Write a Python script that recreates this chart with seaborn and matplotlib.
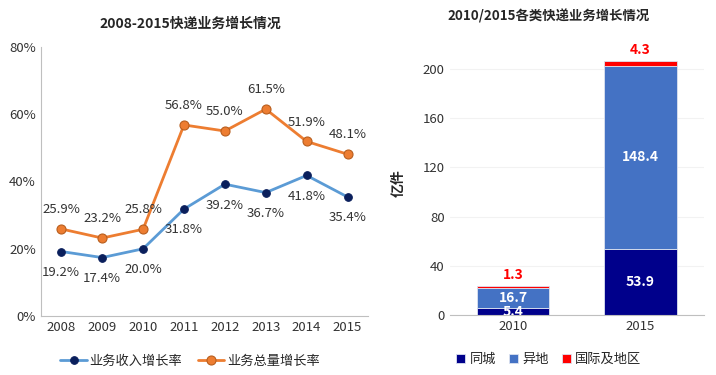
import pandas as pd
import matplotlib
matplotlib.use("Agg")
import matplotlib.pyplot as plt
from matplotlib.ticker import FuncFormatter
import seaborn as sns

sns.set_style("white")
plt.rcParams['font.family'] = ['Noto Sans CJK SC', 'DejaVu Sans']
plt.rcParams['axes.unicode_minus'] = False

# left chart data
years = ['2008', '2009', '2010', '2011', '2012', '2013', '2014', '2015']
revenue_growth = [19.2, 17.4, 20.0, 31.8, 39.2, 36.7, 41.8, 35.4]
volume_growth = [25.9, 23.2, 25.8, 56.8, 55.0, 61.5, 51.9, 48.1]

# right chart data
bar_years = ['2010', '2015']
same_city = [5.4, 53.9]
other_city = [16.7, 148.4]
international = [1.3, 4.3]

fig = plt.figure(figsize=(7.16, 3.75), dpi=100)
ax1 = fig.add_axes([0.057, 0.157, 0.457, 0.718])
ax2 = fig.add_axes([0.628, 0.16, 0.355, 0.705])

# ---- left: growth lines
df = pd.DataFrame({'year': years, 'rev': revenue_growth, 'vol': volume_growth})
sns.lineplot(data=df, x='year', y='rev', ax=ax1, color='#5B9BD5', lw=2,
             marker='o', markersize=5.5, markerfacecolor='#0A1F5C',
             markeredgecolor='#0A1F5C', label='业务收入增长率', sort=False)
sns.lineplot(data=df, x='year', y='vol', ax=ax1, color='#ED7D31', lw=2,
             marker='o', markersize=6.5, markerfacecolor='#ED7D31',
             markeredgecolor='#B85E1E', markeredgewidth=0.8,
             label='业务总量增长率', sort=False)

for i, (r, v) in enumerate(zip(revenue_growth, volume_growth)):
    ax1.annotate(f'{r:.1f}%', (i, r), xytext=(0, -15), textcoords='offset points',
                 ha='center', va='center', fontsize=9.5, color='#333333')
    ax1.annotate(f'{v:.1f}%', (i, v), xytext=(0, 14), textcoords='offset points',
                 ha='center', va='center', fontsize=9.5, color='#333333')

ax1.set_xlim(-0.5, 7.5)
ax1.set_ylim(0, 80)
ax1.set_yticks([0, 20, 40, 60, 80])
ax1.yaxis.set_major_formatter(FuncFormatter(lambda x, p: f'{x:.0f}%'))
ax1.set_xlabel('')
ax1.set_ylabel('')
ax1.tick_params(labelsize=9.5, colors='#333333', length=0)
for s in ['top', 'right']:
    ax1.spines[s].set_visible(False)
for s in ['left', 'bottom']:
    ax1.spines[s].set_color('#BFBFBF')
ax1.set_title('2008-2015快递业务增长情况', fontsize=10, fontweight='bold', pad=14,
              x=0.456)
ax1.legend(loc='upper center', bbox_to_anchor=(0.456, -0.1), ncol=2, frameon=False,
           fontsize=9.5, handlelength=2.0, handletextpad=0.2, columnspacing=1.2)

# ---- right: stacked bars
bdf = pd.DataFrame({'year': bar_years, 'same': same_city, 'other': other_city,
                    'intl': international})
bot2 = bdf['same'] + bdf['other']
bar_kw = dict(width=0.57, saturation=1, edgecolor='#DCE2F0', linewidth=0.6)
sns.barplot(data=bdf, x='year', y='same', ax=ax2, color='#00008B',
            label='同城', **bar_kw)
sns.barplot(data=bdf, x='year', y='other', ax=ax2, color='#4472C4',
            bottom=bdf['same'], label='异地', **bar_kw)
sns.barplot(data=bdf, x='year', y='intl', ax=ax2, color='#FF0000',
            bottom=bot2, label='国际及地区', **bar_kw)

for i in range(len(bar_years)):
    s, o, t = same_city[i], other_city[i], international[i]
    # small segment label gets clipped by the axis like in the original
    ax2.text(i, s / 2, f'{s}', ha='center', va='center', color='white',
             fontsize=10, fontweight='bold', clip_on=True)
    ax2.text(i, s + o / 2, f'{o}', ha='center', va='center', color='white',
             fontsize=10, fontweight='bold')
    ax2.annotate(f'{t}', (i, s + o + t), xytext=(0, 8), textcoords='offset points',
                 ha='center', va='center', color='red', fontsize=10, fontweight='bold')

ax2.set_xlim(-0.5, 1.5)
ax2.set_ylim(0, 215)
ax2.set_yticks([0, 40, 80, 120, 160, 200])
ax2.yaxis.grid(True, color='#F2F2F2', lw=0.8)
ax2.set_axisbelow(True)
ax2.set_xlabel('')
ax2.set_ylabel('亿件', fontsize=10, fontweight='bold', labelpad=12)
ax2.tick_params(labelsize=9.5, colors='#333333', length=0)
for s in ['top', 'right', 'left']:
    ax2.spines[s].set_visible(False)
ax2.spines['bottom'].set_color('#BFBFBF')
ax2.set_title('2010/2015各类快递业务增长情况', fontsize=9.6, fontweight='bold', pad=22,
              x=0.39)
ax2.legend(loc='upper center', bbox_to_anchor=(0.39, -0.1), ncol=3, frameon=False,
           fontsize=9.5, handlelength=0.7, handleheight=0.7, handletextpad=0.3,
           columnspacing=1.0)

fig.savefig('out.png', dpi=100)
